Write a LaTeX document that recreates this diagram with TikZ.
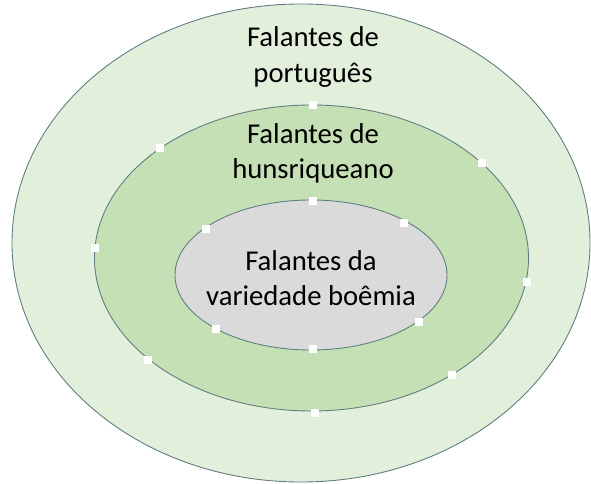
\documentclass[tikz,border=0pt]{standalone}
\usepackage{fontspec}
\setmainfont{Carlito}
\usetikzlibrary{shapes.geometric}
\definecolor{rimline}{RGB}{95,125,128}
\definecolor{ptgreen}{RGB}{226,239,218}
\definecolor{hugreen}{RGB}{197,224,180}
\definecolor{bogrey}{RGB}{218,218,218}
\begin{document}
\begin{tikzpicture}[x=0.03cm,y=-0.03cm]
    \tikzstyle{ring}=[draw=rimline,line width=0.75pt,shape=ellipse,inner sep=0pt]
    \tikzstyle{label}=[align=center,font=\fontsize{24.5}{30}\selectfont,text=black]
    \tikzstyle{handle}=[fill=white,shape=rectangle,minimum size=0.22cm,inner sep=0pt]
    \useasboundingbox (0,0) rectangle (591,484);
    \node[ring,fill=ptgreen,minimum width=17.34cm,minimum height=14.34cm] (PT) at (301,243) {};
    \node[ring,fill=hugreen,minimum width=13.02cm,minimum height=9.18cm] (HU) at (311.5,258) {};
    \node[ring,fill=bogrey,minimum width=8.16cm,minimum height=4.5cm] (BO) at (311,275) {};
    \node[label] (tPT) at (313,57) {Falantes de\\português};
    \node[label] (tHU) at (313,153) {Falantes de\\hunsriqueano};
    \node[label] (tBO) at (311,278) {Falantes da\\variedade boêmia};
    % handles
    \foreach \name/\x/\y in {h1/313/105,h2/160/148,h3/482/163,h4/95/248,h5/527/282,
                             h6/148/360,h7/452/375,h8/315/413,
                             i1/313/201,i2/206/229,i3/404/223,i4/216/329,i5/419/322,i6/313/349}
        \node[handle] (\name) at (\x,\y) {};
\end{tikzpicture}
\end{document}
